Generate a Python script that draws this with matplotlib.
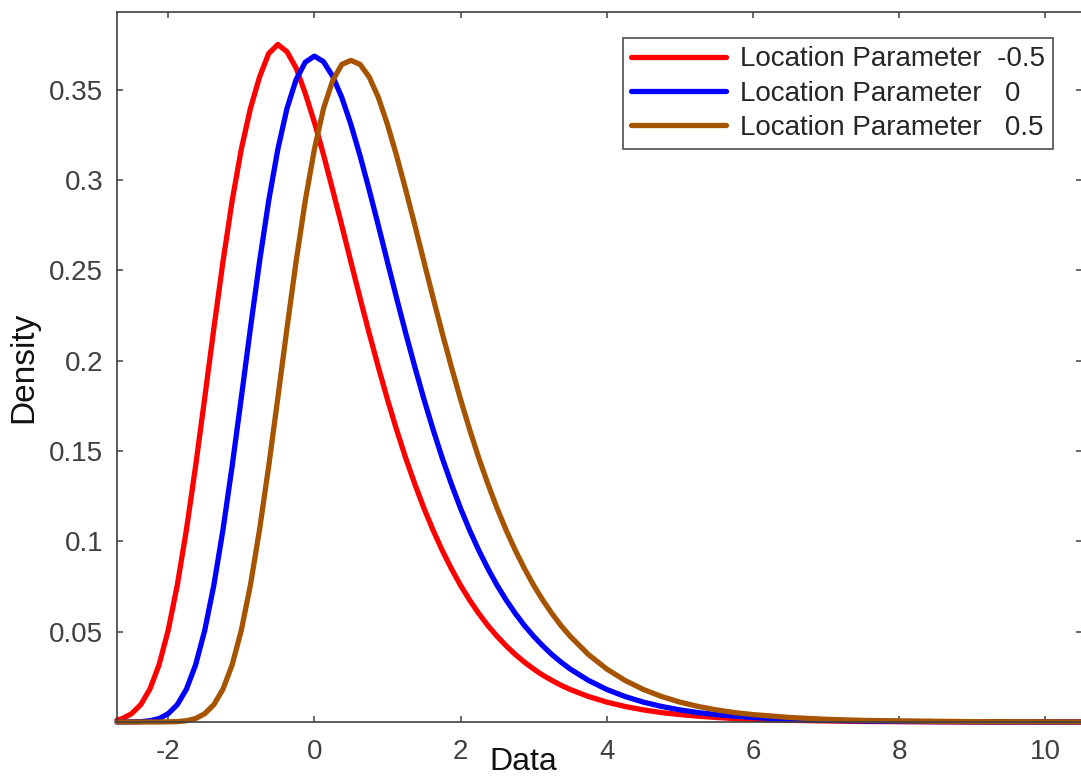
import numpy as np
import matplotlib
matplotlib.use("Agg")
import matplotlib.pyplot as plt

# Données (densités estimées)
x = [-2.7, -2.625, -2.5, -2.375, -2.25, -2.125, -2.0, -1.875, -1.75, -1.625,
     -1.5, -1.375, -1.25, -1.125, -1.0, -0.875, -0.75, -0.625, -0.5, -0.375,
     -0.25, -0.125, 0.0, 0.125, 0.25, 0.375, 0.5, 0.625, 0.75, 0.875,
     1.0, 1.125, 1.25, 1.375, 1.5, 1.625, 1.75, 1.875, 2.0, 2.125,
     2.25, 2.375, 2.5, 2.625, 2.75, 2.875, 3.0, 3.125, 3.25, 3.375,
     3.5, 3.75, 4.0, 4.25, 4.5, 4.75, 5.0, 5.25, 5.5, 5.75,
     6.0, 6.5, 7.0, 7.5, 8.0, 9.0, 10.0, 10.5]

rouge = [0.0011, 0.0019, 0.0046, 0.0096, 0.0182, 0.0316, 0.0507, 0.0758, 0.1065, 0.1416,
         0.1794, 0.2179, 0.2549, 0.2885, 0.3170, 0.3396, 0.3570, 0.3700, 0.3750, 0.3710,
         0.3620, 0.3480, 0.3320, 0.3140, 0.2945, 0.2748, 0.2546, 0.2346, 0.2151, 0.1964,
         0.1785, 0.1617, 0.1460, 0.1316, 0.1182, 0.1060, 0.0949, 0.0848, 0.0756, 0.0674,
         0.0600, 0.0533, 0.0474, 0.0421, 0.0373, 0.0331, 0.0293, 0.0259, 0.0230, 0.0203,
         0.0180, 0.0141, 0.0110, 0.0086, 0.0067, 0.0052, 0.0041, 0.0032, 0.0025, 0.0019,
         0.0015, 0.0009, 0.0006, 0.0003, 0.0002, 0.0, 0.0, 0.0]

bleu = [0.0, 0.0, 0.0001, 0.0002, 0.0007, 0.0019, 0.0046, 0.0096, 0.0182, 0.0316,
        0.0507, 0.0758, 0.1065, 0.1416, 0.1794, 0.2179, 0.2549, 0.2885, 0.3170, 0.3396,
        0.3556, 0.3652, 0.3686, 0.3655, 0.3574, 0.3457, 0.3307, 0.3134, 0.2945, 0.2748,
        0.2546, 0.2346, 0.2151, 0.1964, 0.1785, 0.1617, 0.1460, 0.1316, 0.1182, 0.1060,
        0.0949, 0.0848, 0.0756, 0.0674, 0.0600, 0.0533, 0.0474, 0.0421, 0.0373, 0.0331,
        0.0293, 0.0230, 0.0180, 0.0141, 0.0110, 0.0086, 0.0067, 0.0052, 0.0041, 0.0032,
        0.0025, 0.0015, 0.0009, 0.0006, 0.0003, 0.0001, 0.0, 0.0]

marron = [0.0, 0.0, 0.0, 0.0, 0.0, 0.0, 0.0001, 0.0002, 0.0007, 0.0019,
          0.0046, 0.0096, 0.0182, 0.0316, 0.0507, 0.0758, 0.1065, 0.1416, 0.1794, 0.2179,
          0.2549, 0.2885, 0.3170, 0.3396, 0.3550, 0.3640, 0.3662, 0.3640, 0.3570, 0.3457,
          0.3307, 0.3134, 0.2945, 0.2748, 0.2546, 0.2346, 0.2151, 0.1964, 0.1785, 0.1617,
          0.1460, 0.1316, 0.1182, 0.1060, 0.0949, 0.0848, 0.0756, 0.0674, 0.0600, 0.0533,
          0.0474, 0.0373, 0.0293, 0.0230, 0.0180, 0.0141, 0.0110, 0.0086, 0.0067, 0.0052,
          0.0041, 0.0025, 0.0015, 0.0009, 0.0006, 0.0002, 0.0001, 0.0]

etiquettes = ["Location Parameter  -0.5", "Location Parameter   0", "Location Parameter   0.5"]
couleurs = ["#ff0000", "#0000ff", "#a65400"]

xticks = [-2, 0, 2, 4, 6, 8, 10]
yticks = [0.05, 0.1, 0.15, 0.2, 0.25, 0.3, 0.35]
ytick_labels = ["0.05", "0.1", "0.15", "0.2", "0.25", "0.3", "0.35"]

plt.rcParams['font.family'] = ['Liberation Sans', 'DejaVu Sans']
plt.rcParams['axes.unicode_minus'] = False

fig = plt.figure(figsize=(10.81, 7.84), dpi=100)
ax = fig.add_axes([117 / 1081, 62 / 784, 965 / 1081, 710 / 784])

for serie, lab, col in zip([rouge, bleu, marron], etiquettes, couleurs):
    ax.plot(x, serie, color=col, lw=3.8, label=lab, clip_on=False,
            solid_joinstyle="round", solid_capstyle="round")

ax.set_xlim(-2.7, 10.5)
ax.set_ylim(0, 0.393)
ax.set_xticks(xticks)
ax.set_yticks(yticks)
ax.set_yticklabels(ytick_labels)

gris = "#404040"
for s in ax.spines.values():
    s.set_color(gris)
    s.set_linewidth(1.2)
ax.tick_params(direction="in", length=4.5, width=1.1, color=gris, labelcolor=gris,
               labelsize=20, top=True, right=True)
ax.tick_params(axis="x", pad=12)
ax.tick_params(axis="y", pad=10)

ax.set_xlabel("Data", fontsize=23, color="#111111")
ax.set_ylabel("Density", fontsize=24, color="#111111")
ax.xaxis.set_label_coords(0.421, -0.035)
ax.yaxis.set_label_coords(-0.081, 0.5)

leg = ax.legend(loc="upper left", bbox_to_anchor=(623 / 1081, 1 - 38 / 784),
                bbox_transform=fig.transFigure, fontsize=20, frameon=True,
                fancybox=False, handlelength=3.4, handletextpad=0.5,
                labelspacing=0.3, borderpad=0.3, borderaxespad=0)
leg.get_frame().set_edgecolor("#333333")
leg.get_frame().set_linewidth(1.3)
for t in leg.get_texts():
    t.set_color("#262626")

fig.savefig("out.png", dpi=100)
